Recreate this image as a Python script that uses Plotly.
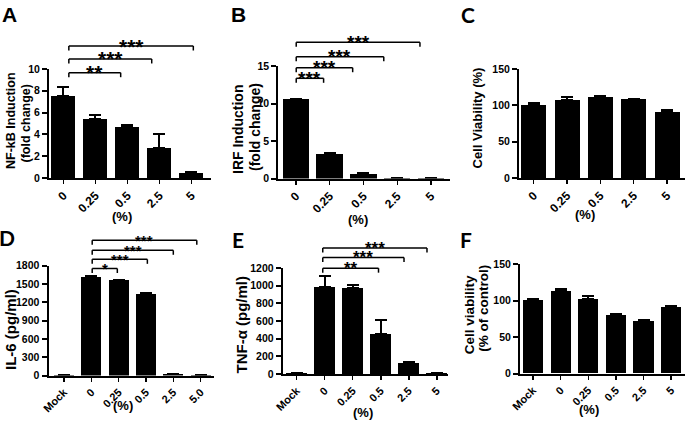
import plotly.graph_objects as go

W, H = 685, 424
FONT = "Liberation Sans, Arial, sans-serif"
LFONT = "Lato, Liberation Sans, sans-serif"

# ---------------- data ----------------
conc_top = ["0", "0.25", "0.5", "2.5", "5"]
nfkb = [7.55, 5.45, 4.7, 2.75, 0.47]
nfkb_err = [0.78, 0.32, 0.2, 1.25, 0.12]
irf = [10.55, 3.3, 0.65, 0.08, 0.04]
irf_err = [0.08, 0.12, 0.06, 0.02, 0.01]
viab_c = [100, 107, 111, 108.5, 91.5]
viab_c_err = [3.5, 4, 2, 0.8, 1.5]

conc_d = ["Mock", "0", "0.25", "0.5", "2.5", "5.0"]
il6 = [5, 1610, 1555, 1340, 25, 10]
il6_err = [2, 15, 15, 10, 5, 3]

conc_e = ["Mock", "0", "0.25", "0.5", "2.5", "5"]
tnf = [12, 985, 970, 455, 125, 12]
tnf_err = [3, 130, 40, 155, 8, 3]

conc_f = ["Mock", "0", "0.25", "0.5", "2.5", "5"]
viab_f = [101, 114, 102, 80.5, 72, 91]
viab_f_err = [1.5, 1.5, 4, 1, 0.8, 1.5]

# significance brackets: (from index, to index, level in data units, label)
sig_a = [(0.17, 1.79, 9.66, "**"), (0.17, 2.76, 10.92, "***"), (0.17, 4.06, 12.11, "***")]
sig_b = [(0.01, 0.82, 13.36, "***"), (0.01, 1.68, 14.77, "***"),
         (0.01, 2.6, 16.24, "***"), (0.01, 3.67, 18.16, "***")]
sig_d = [(1.03, 1.95, 1751, "*"), (1.03, 3.05, 1901, "***"),
         (1.03, 4.0, 2049, "***"), (1.03, 4.86, 2212, "***")]
sig_e = [(0.93, 2.92, 1198, "**"), (0.93, 3.83, 1319, "***"), (0.93, 4.65, 1426, "***")]

panels = [
    dict(letter="A", lpos=(9, 14.5), lfont=FONT, cats=conc_top, vals=nfkb, err=nfkb_err,
         box=(49, 69, 210.6, 178), xr=(-0.45, 4.6), ymax=10, dtick=2, bw=0.75, xts=12,
         titles=[("NF-kB Induction", 11, 121, 12.5), ("(fold change)", 26, 123.5, 12.5)],
         pct=(122, 216), sig=sig_a, ast=21),
    dict(letter="B", lpos=(239, 15), lfont=FONT, cats=conc_top, vals=irf, err=irf_err,
         box=(278.3, 66, 449.7, 178.5), xr=(-0.52, 4.55), ymax=15, dtick=5, bw=0.78, xts=12,
         titles=[("IRF Induction", 238, 130, 14), ("(fold change)", 255, 127, 14)],
         pct=(358, 219), sig=sig_b, ast=19),
    dict(letter="C", lpos=(468, 14), lfont=LFONT, cats=conc_top, vals=viab_c, err=viab_c_err,
         box=(519, 69, 685, 178), xr=(-0.44, 4.54), ymax=150, dtick=50, bw=0.75, xts=12,
         titles=[("Cell Viability (%)", 477, 118.5, 13)],
         pct=(585, 214), sig=[], ast=19),
    dict(letter="D", lpos=(6.5, 237.5), lfont=LFONT, cats=conc_d, vals=il6, err=il6_err,
         box=(48.5, 265.5, 214, 375.5), xr=(-0.57, 5.49), ymax=1800, dtick=300, bw=0.73, xts=11,
         titles=[("IL-6 (pg/ml)", 10, 330, 15)],
         pct=(123, 405), sig=sig_d, ast=15),
    dict(letter="E", lpos=(238, 239.5), lfont=LFONT, cats=conc_e, vals=tnf, err=tnf_err,
         box=(282.7, 268, 448, 374), xr=(-0.5, 5.4), ymax=1200, dtick=200, bw=0.74, xts=11,
         titles=[("TNF-α (pg/ml)", 241, 324.5, 15)],
         pct=(363, 412), sig=sig_e, ast=17),
    dict(letter="F", lpos=(466, 239.5), lfont=LFONT, cats=conc_f, vals=viab_f, err=viab_f_err,
         box=(520, 264.3, 685, 373.5), xr=(-0.47, 5.5), ymax=150, dtick=50, bw=0.73, xts=11,
         titles=[("Cell viability", 469.3, 315, 13.5), ("(% of control)", 482.7, 308, 13.5)],
         pct=(589, 409), sig=[], ast=19),
]

fig = go.Figure()
annotations = []
shapes = []
HOOK = 4.5  # px
for i, p in enumerate(panels, start=1):
    xa = "x" if i == 1 else f"x{i}"
    ya = "y" if i == 1 else f"y{i}"
    x0, y0, x1, y1 = p["box"]
    fig.add_trace(go.Bar(
        x=p["cats"], y=p["vals"], width=p["bw"],
        marker=dict(color="black", line=dict(width=0)),
        error_y=dict(type="data", array=p["err"], arrayminus=[0] * len(p["err"]),
                     symmetric=False, color="black", thickness=2, width=6),
        xaxis=xa, yaxis=ya, showlegend=False, hoverinfo="skip"))
    lx = "xaxis" if i == 1 else f"xaxis{i}"
    ly = "yaxis" if i == 1 else f"yaxis{i}"
    fig.layout[lx] = dict(
        domain=[x0 / W, x1 / W], anchor=ya, type="category", range=list(p["xr"]),
        showline=True, linecolor="black", linewidth=2, ticks="outside", ticklen=4,
        tickwidth=1.5, tickcolor="black", tickangle=-45, automargin=False,
        tickfont=dict(family=FONT, size=p["xts"], color="black", weight="bold"),
        showgrid=False, zeroline=False, fixedrange=True)
    fig.layout[ly] = dict(
        domain=[1 - y1 / H, 1 - y0 / H], anchor=xa, range=[0, p["ymax"]], tick0=0,
        dtick=p["dtick"], showline=True, linecolor="black", linewidth=2, ticks="outside",
        ticklen=5, tickwidth=2, tickcolor="black", automargin=False,
        tickfont=dict(family=FONT, size=10.5, color="black", weight="bold"),
        showgrid=False, zeroline=False, fixedrange=True)

    # panel letter
    annotations.append(dict(text=f"<b>{p['letter']}</b>", x=p["lpos"][0] / W, y=1 - p["lpos"][1] / H,
                            xref="paper", yref="paper", showarrow=False, xanchor="center",
                            yanchor="middle", font=dict(family=p["lfont"], size=21, color="black")))
    # axis titles
    for txt, tx, ty, fs in p["titles"]:
        annotations.append(dict(text=f"<b>{txt}</b>", x=tx / W, y=1 - ty / H, xref="paper",
                                yref="paper", showarrow=False, textangle=-90, xanchor="center",
                                yanchor="middle", font=dict(family=FONT, size=fs, color="black")))
    # (%) label
    annotations.append(dict(text="<b>(%)</b>", x=p["pct"][0] / W, y=1 - p["pct"][1] / H,
                            xref="paper", yref="paper", showarrow=False, xanchor="center",
                            yanchor="middle", font=dict(family=FONT, size=13, color="black")))
    # significance brackets
    r0, r1 = p["xr"]
    hpx = y1 - y0
    hook = HOOK / hpx
    for a, b, lev, lab in p["sig"]:
        fa = (a - r0) / (r1 - r0)
        fb = (b - r0) / (r1 - r0)
        fy = lev / p["ymax"]
        for (xs, ys, xe, ye) in [(fa, fy - hook, fa, fy), (fa, fy, fb, fy), (fb, fy, fb, fy - hook)]:
            shapes.append(dict(type="line", xref=f"{xa} domain", yref=f"{ya} domain",
                               x0=xs, y0=ys, x1=xe, y1=ye, line=dict(color="black", width=1.5)))
        annotations.append(dict(text=f"<b>{lab}</b>", x=(fa + fb) / 2, y=fy, xref=f"{xa} domain",
                                yref=f"{ya} domain", showarrow=False, xanchor="center",
                                yanchor="middle", yshift=0,
                                font=dict(family=FONT, size=p["ast"], color="black")))

fig.update_layout(width=W, height=H, margin=dict(l=0, r=0, t=0, b=0, pad=0, autoexpand=False),
                  paper_bgcolor="white", plot_bgcolor="white", bargap=0,
                  annotations=annotations, shapes=shapes, showlegend=False)
fig.write_html("out.html", config={"displayModeBar": False, "staticPlot": True},
               post_script="document.body.style.margin='0';document.body.style.padding='0';")
